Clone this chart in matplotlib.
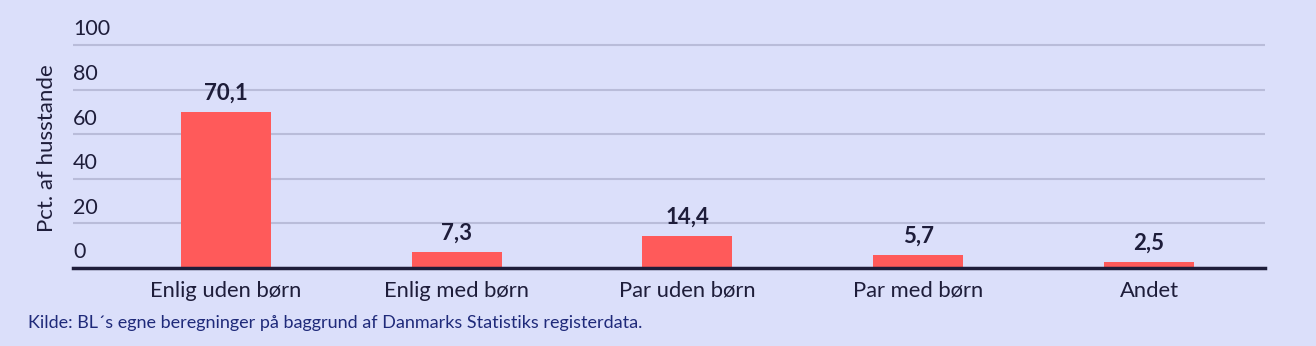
import matplotlib as mpl
mpl.use('Agg')
import matplotlib.pyplot as plt
from matplotlib.transforms import ScaledTranslation

categories = ["Enlig uden børn", "Enlig med børn", "Par uden børn", "Par med børn", "Andet"]
values = [70.1, 7.3, 14.4, 5.7, 2.5]
value_labels = ["70,1", "7,3", "14,4", "5,7", "2,5"]
yticks = [0, 20, 40, 60, 80, 100]

bg = '#dbdffa'
bar_color = '#ff5a5a'
ink = '#1e1d3a'
grid_color = '#b9bcd9'

plt.rcParams['font.family'] = ['Lato', 'DejaVu Sans']

fig = plt.figure(figsize=(13.16, 3.46), dpi=100, facecolor=bg)
ax = fig.add_axes([0.0555, 0.2254, 0.9057, 0.6509])
ax.set_facecolor(bg)

x = list(range(len(categories)))
ax.bar(x, values, width=0.39, color=bar_color, zorder=3)

for xi, v, lab in zip(x, values, value_labels):
    ax.annotate(lab, (xi, v), xytext=(0, 6), textcoords='offset points',
                ha='center', va='bottom', fontsize=16, fontweight='bold', color=ink)

ax.set_xlim(-0.662, 4.502)
ax.set_ylim(0, 101)
ax.set_yticks(yticks)
ax.set_yticklabels([str(t) for t in yticks])
ax.yaxis.grid(True, color=grid_color, linewidth=1.5, zorder=0)
ax.set_axisbelow(True)

ax.tick_params(axis='y', length=0, pad=0, labelsize=15.5, labelcolor=ink)
offset = ScaledTranslation(0, 4 / 72, fig.dpi_scale_trans)
for lbl in ax.get_yticklabels():
    lbl.set_horizontalalignment('left')
    lbl.set_verticalalignment('bottom')
    lbl.set_transform(ax.get_yaxis_transform(which='grid') + offset)
    lbl.set_x(0.0)

ax.set_xticks(x)
ax.set_xticklabels(categories)
ax.tick_params(axis='x', length=0, pad=9, labelsize=15.8, labelcolor=ink)

for s in ['top', 'right', 'left']:
    ax.spines[s].set_visible(False)
ax.spines['bottom'].set_color(ink)
ax.spines['bottom'].set_linewidth(2.5)
ax.spines['bottom'].set_zorder(4)

fig.text(0.0357, 0.572, "Pct. af husstande", rotation=90, ha='center', va='center',
         fontsize=16, color=ink)
fig.text(0.021, 0.067, "Kilde: BL\u00b4s egne beregninger på baggrund af Danmarks Statistiks registerdata.",
         ha='left', va='center', fontsize=13, color='#1f2a7a')

fig.savefig('out.png', dpi=100, facecolor=bg)
